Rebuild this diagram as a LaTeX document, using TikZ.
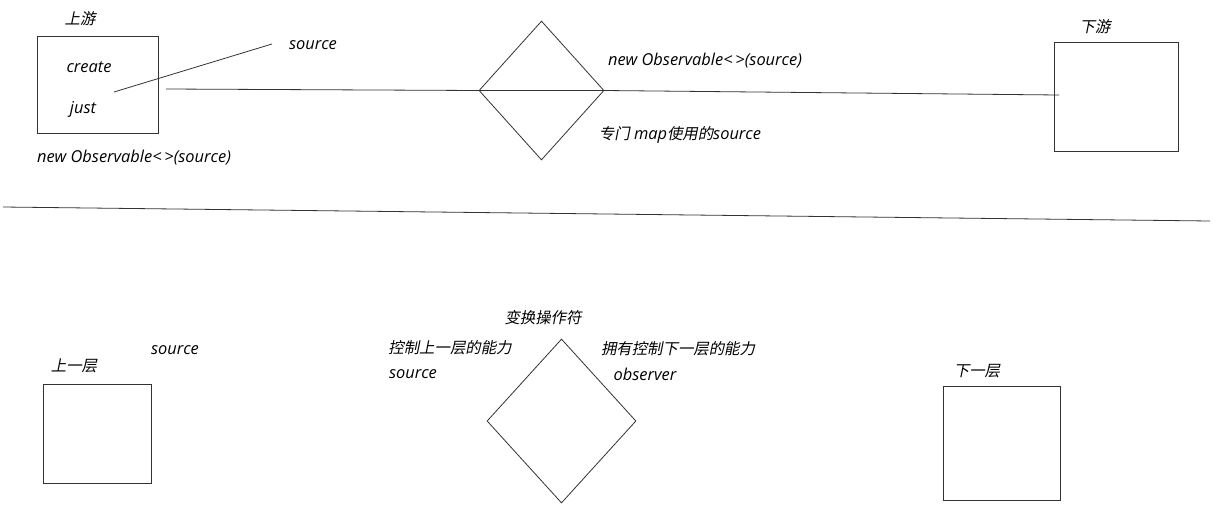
\documentclass[tikz,border=0pt]{standalone}
\usepackage{fontspec}
\setmainfont{Open Sans}[UprightFont=* Italic]
\newfontfamily\cjk{Noto Sans CJK SC}[FakeSlant=0.2]
\usetikzlibrary{shapes.geometric}
\begin{document}
\begin{tikzpicture}[x=1pt,y=-1pt,
  ln/.style={draw=black!80,line width=0.8pt},
  lbl/.style={font=\fontsize{16.4}{18}\selectfont,inner sep=0pt,anchor=center},
  clbl/.style={font=\fontsize{15.4}{17}\selectfont\cjk,inner sep=0pt,anchor=center},
  boxn/.style={ln,rectangle,inner sep=0pt},
  dia/.style={ln,diamond,inner sep=0pt,shape aspect=1}]
\useasboundingbox[fill=white] (0,0) rectangle (1223,520);
% top
\node[boxn,minimum width=121pt,minimum height=97pt] (up) at (97.5,84.5) {};
\node[clbl] (upl) at (80,19) {上游};
\node[lbl] (create) at (89,67) {create};
\node[lbl] (just) at (83,109) {just};
\node[lbl] (src1) at (313,45) {source};
\node[lbl] (newl) at (134,158) {new Observable<\,>(source)};
\node[dia,minimum width=125pt,minimum height=139pt] (d1) at (541.5,90.5) {};
\node[lbl] (newr) at (705,61) {new Observable<\,>(source)};
\node[lbl] (mapsrc) at (680,135) {{\fontsize{15.4}{17}\selectfont\cjk 专门} map{\fontsize{15.4}{17}\selectfont\cjk 使用的}source};
\node[boxn,minimum width=124pt,minimum height=109pt] (down) at (1116,96.5) {};
\node[clbl] (downl) at (1095,27) {下游};
\coordinate (s1) at (114,92);
\coordinate (s2) at (272,44);
\coordinate (h1) at (166,89);
\coordinate (h2) at (1059,95);
\draw[ln] (s1) -- (s2);
\draw[ln] (h1) -- (d1.west) -- (d1.east) -- (h2);
% divider
\coordinate (dv1) at (3,207);
\coordinate (dv2) at (1210,221);
\draw[ln] (dv1) -- (dv2);
% bottom
\node[clbl] (trans) at (543,318) {变换操作符};
\node[clbl] (ctrlup) at (450,348) {控制上一层的能力};
\node[lbl] (src2) at (413,374) {source};
\node[clbl] (ctrldn) at (678,349) {拥有控制下一层的能力};
\node[lbl] (obs) at (645,374) {observer};
\node[dia,minimum width=149pt,minimum height=164pt] (d2) at (561.5,421) {};
\node[boxn,minimum width=108pt,minimum height=99pt] (prev) at (97,433.5) {};
\node[clbl] (prevl) at (74,366) {上一层};
\node[lbl] (src3) at (175,350) {source};
\node[boxn,minimum width=117pt,minimum height=114pt] (next) at (1001.5,443) {};
\node[clbl] (nextl) at (977,371) {下一层};
\end{tikzpicture}
\end{document}
